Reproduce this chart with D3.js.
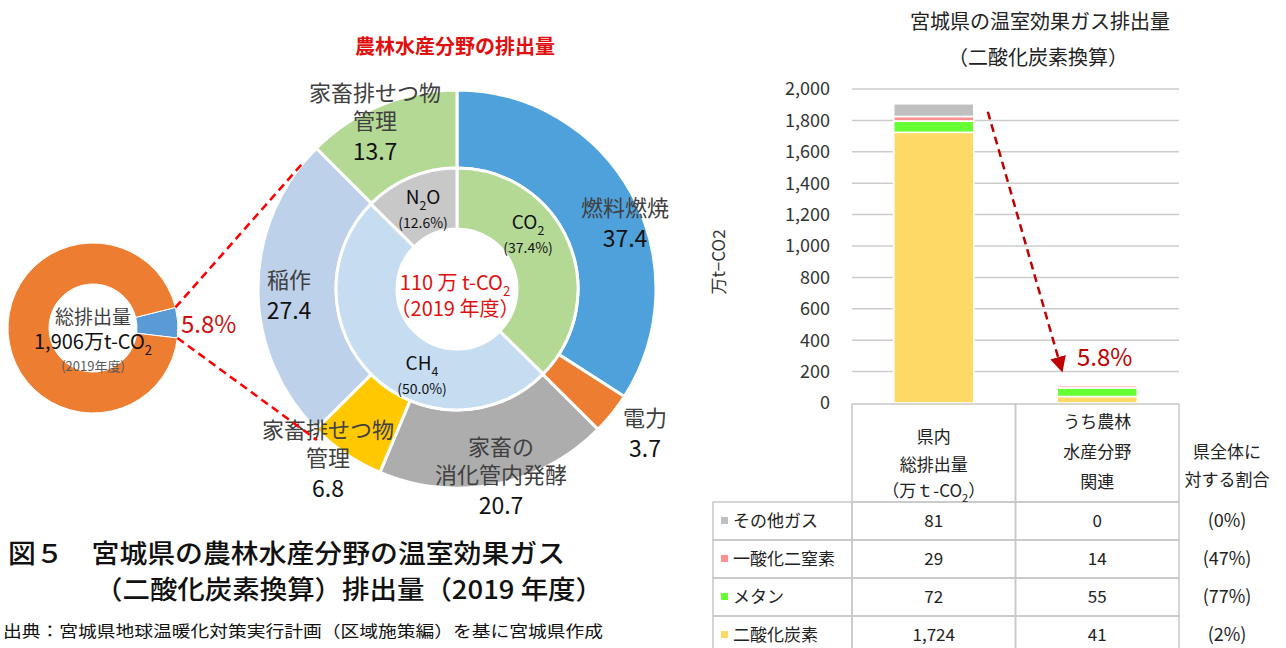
<!DOCTYPE html>
<html>
<head>
<meta charset="utf-8">
<script src="https://cdn.jsdelivr.net/npm/d3@7"></script>
<style>
    body { margin: 0; background: #fff; }
    svg { display: block; }
    text { font-family: 'Noto Sans CJK JP', 'Noto Sans', sans-serif; }
</style>
</head>
<body>
<svg id="chart" width="1286" height="648"></svg>
<script>
// small donut: share of agriculture in the prefecture total (万t-CO2)
const smallCats = ['農林水産分野', 'その他の分野'];
const smallValues = [110, 1796];

// big donut, outer ring (万t-CO2)
const outerCats = ['燃料燃焼', '電力', '家畜の消化管内発酵', '家畜排せつ物管理', '稲作', '家畜排せつ物管理'];
const outerValues = [37.4, 3.7, 20.7, 6.8, 27.4, 13.7];
const outerLines = [['燃料燃焼'], ['電力'], ['家畜の', '消化管内発酵'], ['家畜排せつ物', '管理'], ['稲作'], ['家畜排せつ物', '管理']];

// big donut, inner ring (%)
const innerCats = [['CO', '2'], ['CH', '4'], ['N', '2', 'O']];
const innerValues = [37.4, 50.0, 12.6];

// stacked bars + table
const barCats = ['total', 'agri'];
const gases = ['二酸化炭素', 'メタン', '一酸化二窒素', 'その他ガス'];
const totalValues = [1724, 72, 29, 81];
const agriValues = [41, 55, 14, 0];
const shareLabels = ['(2%)', '(77%)', '(47%)', '(0%)'];
const yTicks = [0, 200, 400, 600, 800, 1000, 1200, 1400, 1600, 1800, 2000];

const svg = d3.select('#chart');

function richText(sel, parts, fs) {
    // parts: list of strings; odd entries are subscripts
    parts.forEach((s, i) => {
        const t = sel.append('tspan').text(s);
        if (i % 2 === 1) t.attr('dy', fs * 0.3).attr('font-size', fs * 0.65);
        else if (i > 0) t.attr('dy', -fs * 0.3);
    });
}

/////////////////////////////// small donut
(function smallDonut() {
    const a0 = 76 * Math.PI / 180;
    const pie = d3.pie().sort(null).startAngle(a0).endAngle(a0 + 2 * Math.PI);
    const arc = d3.arc().innerRadius(44).outerRadius(85);
    const g = svg.append('g').attr('transform', 'translate(93, 328)');
    g.selectAll('path')
        .data(pie(smallValues))
        .enter()
        .append('path')
        .attr('d', arc)
        .attr('fill', (d, i) => ['#5B9BD5', '#ED7D31'][i])
        .attr('stroke', '#fff')
        .attr('stroke-width', 1);

    g.append('text').attr('x', 0).attr('y', -4).attr('text-anchor', 'middle')
        .attr('font-size', 19).attr('fill', '#404040').text('総排出量');
    const t2 = g.append('text').attr('x', 0).attr('y', 21).attr('text-anchor', 'middle')
        .attr('font-size', 20).attr('fill', '#111');
    richText(t2, ['1,906万t-CO', '2'], 20);
    g.append('text').attr('x', 0).attr('y', 43).attr('text-anchor', 'middle')
        .attr('font-size', 13).attr('fill', '#595959').text('(2019年度)');

    g.append('text').attr('x', 88).attr('y', 5).attr('font-size', 24)
        .attr('fill', '#CC1010').text('5.8%');
})();

/////////////////////////////// big donut
const bigC = { x: 457, y: 289 };
const outerR = 199, ringR = 121, holeR = 60;
const bigPie = d3.pie().sort(null);
const outerArcs = bigPie(outerValues);
const innerArcs = bigPie(innerValues);
const gBig = svg.append('g').attr('transform', `translate(${bigC.x}, ${bigC.y})`);

gBig.selectAll('path.outer')
    .data(outerArcs)
    .enter()
    .append('path')
    .attr('class', 'outer')
    .attr('d', d3.arc().innerRadius(ringR).outerRadius(outerR))
    .attr('fill', (d, i) => ['#4FA1DC', '#ED7D31', '#ADADAD', '#FFC800', '#BDD1EB', '#B4D995'][i])
    .attr('stroke', '#fff')
    .attr('stroke-width', 3);

gBig.selectAll('path.inner')
    .data(innerArcs)
    .enter()
    .append('path')
    .attr('class', 'inner')
    .attr('d', d3.arc().innerRadius(holeR).outerRadius(ringR))
    .attr('fill', (d, i) => ['#B4D995', '#C6DDF1', '#C8C8C8'][i])
    .attr('stroke', '#fff')
    .attr('stroke-width', 3);

// red dashed connectors from the small slice to the big donut
(function connectors() {
    const a0 = 76 * Math.PI / 180;
    const sp = d3.pie().sort(null).startAngle(a0).endAngle(a0 + 2 * Math.PI)(smallValues)[0];
    const pt = (cx, cy, r, a) => [cx + r * Math.sin(a), cy - r * Math.cos(a)];
    const rice = outerArcs[4];
    const lines = [
        [pt(93, 328, 85, sp.startAngle), pt(bigC.x, bigC.y, outerR, rice.endAngle - 0.09)],
        [pt(93, 328, 85, sp.endAngle), pt(bigC.x, bigC.y, outerR + 7, rice.startAngle - 0.04)],
    ];
    svg.selectAll('line.conn')
        .data(lines)
        .enter()
        .append('line')
        .attr('class', 'conn')
        .attr('x1', d => d[0][0]).attr('y1', d => d[0][1])
        .attr('x2', d => d[1][0]).attr('y2', d => d[1][1])
        .attr('stroke', '#FF0000')
        .attr('stroke-width', 2.5)
        .attr('stroke-dasharray', '8,5');
})();

// outer labels (offsets from the donut centre)
const outerPos = [
    { x: 168, y: -81 },
    { x: 188, y: 129 },
    { x: 44, y: 158 },
    { x: -129, y: 141 },
    { x: -168, y: -9 },
    { x: -82, y: -196 },
];
outerArcs.forEach((d, i) => {
    const g = gBig.append('g').attr('transform', `translate(${outerPos[i].x}, ${outerPos[i].y})`);
    const lines = outerLines[i];
    lines.forEach((s, j) => {
        g.append('text').attr('x', 0).attr('y', j * 28).attr('dy', '0.36em')
            .attr('text-anchor', 'middle').attr('font-size', 22).attr('fill', '#404040').text(s);
    });
    g.append('text').attr('x', 0).attr('y', (lines.length - 1) * 28 + 31).attr('dy', '0.36em')
        .attr('text-anchor', 'middle').attr('font-size', 23).attr('fill', '#111')
        .text(d3.format('.1f')(d.data));
});

// inner labels
const innerPos = [
    { x: 71, y: -67 },
    { x: -35, y: 74 },
    { x: -34, y: -92 },
];
innerArcs.forEach((d, i) => {
    const t = gBig.append('text').attr('x', innerPos[i].x).attr('y', innerPos[i].y).attr('dy', '0.36em')
        .attr('text-anchor', 'middle').attr('font-size', 19).attr('fill', '#111');
    richText(t, innerCats[i], 19);
    gBig.append('text').attr('x', innerPos[i].x).attr('y', innerPos[i].y + 26).attr('dy', '0.36em')
        .attr('text-anchor', 'middle').attr('font-size', 14).attr('fill', '#111')
        .text('(' + d3.format('.1f')(d.data) + '%)');
});

// centre text
const ct = gBig.append('text').attr('x', -2).attr('y', -6).attr('dy', '0.36em')
    .attr('text-anchor', 'middle').attr('font-size', 20).attr('fill', '#E01010');
richText(ct, ['110 万 t-CO', '2'], 20);
gBig.append('text').attr('x', -2).attr('y', 20).attr('dy', '0.36em')
    .attr('text-anchor', 'middle').attr('font-size', 20).attr('fill', '#E01010').text('（2019 年度）');

svg.append('text').attr('x', 455).attr('y', 54).attr('text-anchor', 'middle')
    .attr('font-size', 20).attr('font-weight', 'bold').attr('fill', '#E01010').text('農林水産分野の排出量');

/////////////////////////////// captions
svg.append('text').attr('x', 8).attr('y', 563).attr('font-size', 26).attr('font-weight', 500)
    .attr('fill', '#111').attr('textLength', 557).attr('lengthAdjust', 'spacingAndGlyphs')
    .text('図５　宮城県の農林水産分野の温室効果ガス');
svg.append('text').attr('x', 95).attr('y', 599).attr('font-size', 26).attr('font-weight', 500)
    .attr('fill', '#111').attr('textLength', 508).attr('lengthAdjust', 'spacingAndGlyphs')
    .text('（二酸化炭素換算）排出量（2019 年度）');
svg.append('text').attr('x', 3).attr('y', 637).attr('font-size', 16)
    .attr('fill', '#111').attr('textLength', 600).attr('lengthAdjust', 'spacingAndGlyphs')
    .text('出典：宮城県地球温暖化対策実行計画（区域施策編）を基に宮城県作成');

/////////////////////////////// stacked bar chart
const gasColors = ['#FFD966', '#66FF33', '#FF9090', '#C0C0C0'];
const y = d3.scaleLinear().domain([0, 2000]).range([403, 89]);
const x = d3.scaleBand().domain(barCats).range([852, 1179]).padding(0);
const barW = x.bandwidth() * 0.49;

svg.append('text').attr('x', 1040).attr('y', 29).attr('text-anchor', 'middle')
    .attr('font-size', 20).attr('fill', '#222').text('宮城県の温室効果ガス排出量');
svg.append('text').attr('x', 1038).attr('y', 65).attr('text-anchor', 'middle')
    .attr('font-size', 20).attr('fill', '#222').text('（二酸化炭素換算）');

svg.append('g')
    .selectAll('line')
    .data(yTicks.slice(1))
    .enter()
    .append('line')
    .attr('x1', 852).attr('x2', 1179)
    .attr('y1', d => y(d)).attr('y2', d => y(d))
    .attr('stroke', '#CCCCCC').attr('stroke-width', 1.5);

svg.append('g')
    .selectAll('text')
    .data(yTicks)
    .enter()
    .append('text')
    .attr('x', 830).attr('y', d => y(d)).attr('dy', '0.36em')
    .attr('text-anchor', 'end').attr('font-size', 18).attr('fill', '#333')
    .text(d3.format(','));

svg.append('text').attr('transform', 'translate(725, 262) rotate(-90)')
    .attr('text-anchor', 'middle').attr('font-size', 17).attr('fill', '#333').text('万t−CO2');

const rows = barCats.map((c, i) => {
    const o = { cat: c };
    gases.forEach((g, j) => { o[g] = (i === 0 ? totalValues : agriValues)[j]; });
    return o;
});
const series = d3.stack().keys(gases)(rows);

svg.append('g')
    .selectAll('g')
    .data(series)
    .enter()
    .append('g')
    .attr('fill', (d, i) => gasColors[i])
    .selectAll('rect')
    .data(d => d)
    .enter()
    .append('rect')
    .attr('x', d => x(d.data.cat) + (x.bandwidth() - barW) / 2)
    .attr('width', barW)
    .attr('y', d => y(d[1]))
    .attr('height', d => Math.max(0, y(d[0]) - y(d[1])))
    .attr('stroke', '#fff')
    .attr('stroke-width', 1.6);

// dashed arrow from total to agri
svg.append('defs').append('marker')
    .attr('id', 'arrowhead')
    .attr('markerUnits', 'userSpaceOnUse')
    .attr('viewBox', '0 0 16 16')
    .attr('refX', 15).attr('refY', 8)
    .attr('markerWidth', 16).attr('markerHeight', 16)
    .attr('orient', 'auto')
    .append('path')
    .attr('d', 'M0,0 L16,8 L0,16 Z')
    .attr('fill', '#C00000');

svg.append('line')
    .attr('x1', x('total') + (x.bandwidth() + barW) / 2 + 14)
    .attr('y1', y(totalValues.reduce((a, b) => a + b)) + 8)
    .attr('x2', x('agri') + (x.bandwidth() - barW) / 2 + 5)
    .attr('y2', y(200))
    .attr('stroke', '#C00000').attr('stroke-width', 2.5)
    .attr('stroke-dasharray', '8,5')
    .attr('marker-end', 'url(#arrowhead)');

svg.append('text').attr('x', 1077).attr('y', 357).attr('dy', '0.36em')
    .attr('font-size', 24).attr('fill', '#C00000').text('5.8%');

/////////////////////////////// table
const tableTop = 404, headerBottom = 502, tableLeft = 713;
const rowOrder = gases.slice().reverse();
const rowY = d3.scaleBand().domain(rowOrder).range([headerBottom, headerBottom + 38 * 4]);
const border = '#C8C8C8';
const tg = svg.append('g');

tg.selectAll('rect.head')
    .data(barCats)
    .enter()
    .append('rect')
    .attr('class', 'head')
    .attr('x', d => x(d)).attr('y', tableTop)
    .attr('width', x.bandwidth()).attr('height', headerBottom - tableTop)
    .attr('fill', 'none').attr('stroke', border).attr('stroke-width', 1.5);

rowOrder.forEach(g => {
    tg.append('rect')
        .attr('x', tableLeft).attr('y', rowY(g))
        .attr('width', x.range()[0] - tableLeft).attr('height', rowY.bandwidth())
        .attr('fill', 'none').attr('stroke', border).attr('stroke-width', 1.5);
    barCats.forEach(c => {
        tg.append('rect')
            .attr('x', x(c)).attr('y', rowY(g))
            .attr('width', x.bandwidth()).attr('height', rowY.bandwidth())
            .attr('fill', 'none').attr('stroke', border).attr('stroke-width', 1.5);
    });
});

// header texts
const headTexts = [
    [['県内'], ['総排出量'], ['（万ｔ-CO', '2', '）']],
    [['うち農林'], ['水産分野'], ['関連']],
];
const headY = [[437, 465, 491], [422, 452, 482]];
barCats.forEach((c, i) => {
    headTexts[i].forEach((parts, j) => {
        const t = tg.append('text').attr('x', x(c) + x.bandwidth() / 2).attr('y', headY[i][j]).attr('dy', '0.36em')
            .attr('text-anchor', 'middle').attr('font-size', 17).attr('fill', '#222');
        richText(t, parts, 17);
    });
});
tg.append('text').attr('x', 1227).attr('y', 452).attr('dy', '0.36em').attr('text-anchor', 'middle')
    .attr('font-size', 17).attr('fill', '#222').text('県全体に');
tg.append('text').attr('x', 1227).attr('y', 480).attr('dy', '0.36em').attr('text-anchor', 'middle')
    .attr('font-size', 17).attr('fill', '#222').text('対する割合');

// rows
rowOrder.forEach(g => {
    const gi = gases.indexOf(g);
    const cy = rowY(g) + rowY.bandwidth() / 2;
    tg.append('rect').attr('x', 721).attr('y', cy - 4).attr('width', 7).attr('height', 7)
        .attr('fill', gasColors[gi]);
    tg.append('text').attr('x', 733).attr('y', cy).attr('dy', '0.36em')
        .attr('font-size', 17).attr('fill', '#222').text(g);
    [totalValues, agriValues].forEach((vals, k) => {
        tg.append('text').attr('x', x(barCats[k]) + x.bandwidth() / 2).attr('y', cy).attr('dy', '0.36em')
            .attr('text-anchor', 'middle').attr('font-size', 17).attr('fill', '#222')
            .text(d3.format(',')(vals[gi]));
    });
    tg.append('text').attr('x', 1227).attr('y', cy).attr('dy', '0.36em').attr('text-anchor', 'middle')
        .attr('font-size', 18).attr('fill', '#222').text(shareLabels[gi]);
});
</script>
</body>
</html>
